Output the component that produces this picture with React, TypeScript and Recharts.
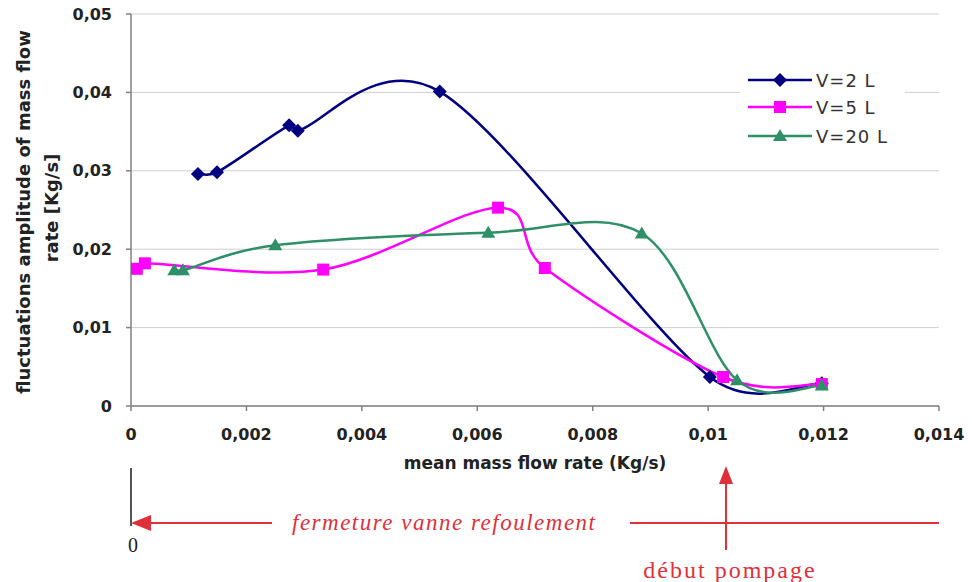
import React from "react";
import { LineChart, Line, XAxis, YAxis, CartesianGrid, Legend } from "recharts";

// axis ticks
const flowTicks = [0, 0.002, 0.004, 0.006, 0.008, 0.01, 0.012, 0.014];
const ampTicks = [0, 0.01, 0.02, 0.03, 0.04, 0.05];

// V=2 L
const v2Flow = [0.00116, 0.00149, 0.00274, 0.00289, 0.00535, 0.01003, 0.01197];
const v2Amp = [0.0296, 0.0298, 0.0358, 0.0351, 0.0401, 0.0037, 0.0029];
// V=5 L
const v5Flow = [0.0001, 0.00024, 0.00333, 0.00636, 0.00717, 0.01026, 0.01197];
const v5Amp = [0.0175, 0.0182, 0.0174, 0.0253, 0.0176, 0.0037, 0.0028];
// V=20 L
const v20Flow = [0.00075, 0.0009, 0.0025, 0.00619, 0.00885, 0.0105, 0.01197];
const v20Amp = [0.0173, 0.0173, 0.0205, 0.0221, 0.022, 0.0033, 0.0026];

const toRows = (xs: number[], ys: number[]) => xs.map((x, i) => ({ x, y: ys[i] }));

const series = [
  { name: "V=2 L", color: "#000080", shape: "diamond", rows: toRows(v2Flow, v2Amp) },
  { name: "V=5 L", color: "#ff00ff", shape: "square", rows: toRows(v5Flow, v5Amp) },
  { name: "V=20 L", color: "#2f8f66", shape: "triangle", rows: toRows(v20Flow, v20Amp) },
];

const sans = "'DejaVu Sans', sans-serif";
const serif = "'Liberation Serif', 'DejaVu Serif', serif";
const red = "#e0303a";

// Excel-like smoothed line (bezier, tension 1/6, arms capped at half the segment)
const excelSmooth = (context: any) => {
  let pts: number[][] = [];
  return {
    areaStart() {},
    areaEnd() {},
    lineStart() {
      pts = [];
    },
    point(x: number, y: number) {
      pts.push([+x, +y]);
    },
    lineEnd() {
      if (!pts.length) return;
      context.moveTo(pts[0][0], pts[0][1]);
      for (let i = 0; i < pts.length - 1; i++) {
        const p0 = pts[i - 1] ?? pts[i];
        const p1 = pts[i];
        const p2 = pts[i + 1];
        const p3 = pts[i + 2] ?? p2;
        const half = Math.hypot(p2[0] - p1[0], p2[1] - p1[1]) / 2;
        const arm = (a: number[], b: number[]) => {
          let dx = (b[0] - a[0]) / 6;
          let dy = (b[1] - a[1]) / 6;
          const l = Math.hypot(dx, dy);
          if (l > half && l > 0) {
            dx *= half / l;
            dy *= half / l;
          }
          return [dx, dy];
        };
        const a1 = arm(p0, p2);
        const a2 = arm(p1, p3);
        context.bezierCurveTo(
          p1[0] + a1[0],
          p1[1] + a1[1],
          p2[0] - a2[0],
          p2[1] - a2[1],
          p2[0],
          p2[1]
        );
      }
    },
  };
};

function Marker({ shape, color, cx, cy }: { shape: string; color: string; cx: number; cy: number }) {
  if (shape === "diamond") {
    return <path d={`M${cx},${cy - 7}L${cx + 7},${cy}L${cx},${cy + 7}L${cx - 7},${cy}Z`} fill={color} />;
  }
  if (shape === "square") {
    return <rect x={cx - 6} y={cy - 6} width={12} height={12} fill={color} />;
  }
  return <path d={`M${cx},${cy - 7}L${cx + 7},${cy + 5}L${cx - 7},${cy + 5}Z`} fill={color} />;
}

function LegendBox() {
  return (
    <svg width={165} height={92} style={{ display: "block", background: "#fff" }}>
      {series.map((s, i) => {
        const y = [18, 45, 74][i];
        return (
          <g key={s.name}>
            <line x1={8} x2={72} y1={y} y2={y} stroke={s.color} strokeWidth={2.5} />
            <Marker shape={s.shape} color={s.color} cx={40} cy={y} />
            <text
              x={76}
              y={y}
              dominantBaseline="central"
              fontFamily={sans}
              fontSize={18}
              letterSpacing={1}
              fill="#333"
            >
              {s.name}
            </text>
          </g>
        );
      })}
    </svg>
  );
}

const fmt = (v: number) => String(v).replace(".", ",");

export default function App() {
  return (
    <div style={{ position: "absolute", left: 0, top: 0, width: 972, height: 582, background: "#fff" }}>
      <LineChart width={972} height={582} margin={{ top: 14, right: 33, bottom: 146, left: 0 }}>
        <CartesianGrid vertical={false} stroke="#cfcfcf" strokeWidth={1} />
        <XAxis
          type="number"
          dataKey="x"
          domain={[0, 0.014]}
          ticks={flowTicks}
          tickFormatter={fmt}
          allowDataOverflow
          height={30}
          stroke="#808080"
          strokeWidth={1.5}
          tickSize={5}
          tickMargin={18}
          tick={{ fontFamily: sans, fontWeight: "bold", fontSize: 16, fill: "#222" }}
        />
        <YAxis
          type="number"
          dataKey="y"
          domain={[0, 0.05]}
          ticks={ampTicks}
          tickFormatter={fmt}
          width={131}
          stroke="#808080"
          strokeWidth={1.5}
          tickSize={5}
          tickMargin={14}
          tick={{ fontFamily: sans, fontWeight: "bold", fontSize: 16, fill: "#222" }}
        />
        <Legend
          layout="vertical"
          align="center"
          verticalAlign="middle"
          wrapperStyle={{ top: 62, left: 740, width: 165, height: 92 }}
          content={() => <LegendBox />}
        />
        {series.map((s) => (
          <Line
            key={s.name}
            name={s.name}
            data={s.rows}
            dataKey="y"
            type={excelSmooth as any}
            stroke={s.color}
            strokeWidth={2.5}
            isAnimationActive={false}
            activeDot={false}
            dot={(p: any) => (
              <Marker key={`${s.name}-${p.index}`} shape={s.shape} color={s.color} cx={p.cx} cy={p.cy} />
            )}
          />
        ))}
      </LineChart>
      <svg
        width={972}
        height={582}
        style={{ position: "absolute", left: 0, top: 0, pointerEvents: "none" }}
      >
        <text
          transform="translate(23,212) rotate(-90)"
          textAnchor="middle"
          dominantBaseline="central"
          fontFamily={sans}
          fontWeight="bold"
          fontSize={18}
          fill="#222"
        >
          fluctuations amplitude of mass flow
        </text>
        <text
          transform="translate(51,208) rotate(-90)"
          textAnchor="middle"
          dominantBaseline="central"
          fontFamily={sans}
          fontWeight="bold"
          fontSize={18}
          fill="#222"
        >
          rate [Kg/s]
        </text>
        <text
          x={535}
          y={463}
          textAnchor="middle"
          dominantBaseline="central"
          fontFamily={sans}
          fontWeight="bold"
          fontSize={17}
          fill="#222"
        >
          mean mass flow rate (Kg/s)
        </text>

        {/* bottom annotation */}
        <line x1={131} x2={131} y1={468} y2={526} stroke="#555" strokeWidth={2} />
        <line x1={146} x2={272} y1={523} y2={523} stroke={red} strokeWidth={2} />
        <path d="M131,523L151,515L151,531Z" fill={red} />
        <text x={292} y={530} fontFamily={serif} fontStyle="italic" fontSize={23} letterSpacing={1.5} fill={red}>
          fermeture vanne refoulement
        </text>
        <line x1={630} x2={939} y1={523} y2={523} stroke={red} strokeWidth={2} />
        <line x1={726} x2={726} y1={482} y2={550} stroke={red} strokeWidth={2} />
        <path d="M726,466L719,484L733,484Z" fill={red} />
        <text x={730} y={578} textAnchor="middle" fontFamily={serif} fontSize={24} letterSpacing={2} fill={red}>
          début pompage
        </text>
        <text x={133} y={552} textAnchor="middle" fontFamily={serif} fontSize={20} fill="#222">
          0
        </text>
      </svg>
    </div>
  );
}
